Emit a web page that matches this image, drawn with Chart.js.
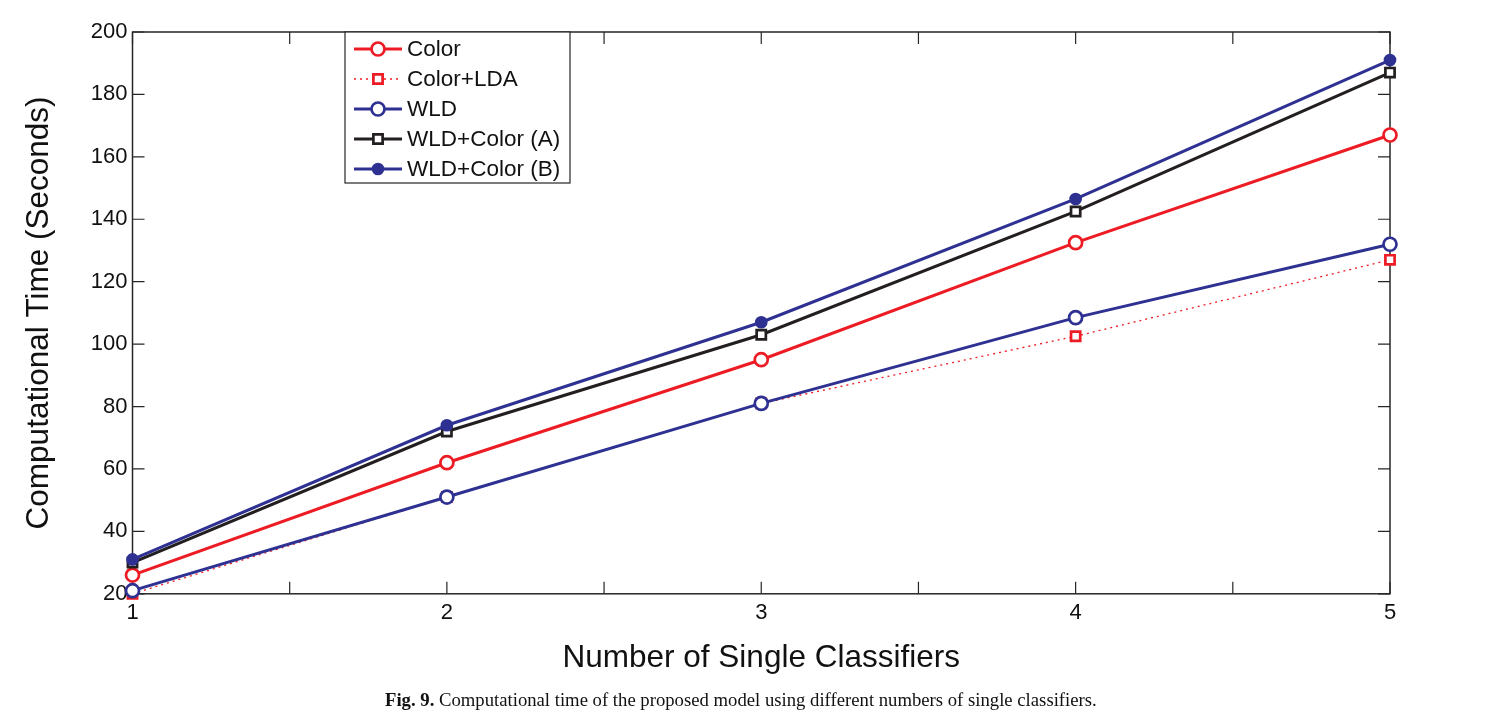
<!DOCTYPE html>
<html>
<head>
<meta charset="utf-8">
<script src="https://cdn.jsdelivr.net/npm/chart.js@4.4.0/dist/chart.umd.min.js"></script>
<style>
  body { margin: 0; background: #ffffff; }
  #wrap { position: relative; width: 1503px; height: 727px; }
  #chart { position: absolute; left: 0; top: 0; }
  #caption {
    position: absolute; left: 385px; top: 689px;
    font-family: "Liberation Serif", "DejaVu Serif", serif;
    font-size: 18.7px; color: #111;
    white-space: nowrap;
  }
</style>
</head>
<body>
<div id="wrap">
  <canvas id="chart" width="1503" height="690"></canvas>
  <div id="caption"><b>Fig. 9.</b> Computational time of the proposed model using different numbers of single classifiers.</div>
</div>
<script>
// Number of single classifiers
const classifiers = [1, 2, 3, 4, 5];

// Computational time (seconds)
const colorTime = [26, 62, 95, 132.5, 167];
const colorLdaTime = [20, 51, 81, 102.5, 127];
const wldTime = [21, 51, 81, 108.5, 132];
const wldColorATime = [30, 72, 103, 142.5, 187];
const wldColorBTime = [31, 74, 107, 146.5, 191];

const yTicks = [20, 40, 60, 80, 100, 120, 140, 160, 180, 200];

const RED = 'rgb(237, 28, 36)';
const BLUE = 'rgb(46, 49, 146)';
const BLACK = 'rgb(35, 31, 32)';
const AXIS = '#262626';
const SANS = '"Liberation Sans", Arial, sans-serif';

function points(values) {
  return classifiers.map((x, i) => ({ x: x, y: values[i] }));
}

// MATLAB style box with inward ticks on all four sides
const boxPlugin = {
  id: 'matlabBox',
  beforeDatasetsDraw(chart) {
    const { ctx, chartArea: a, scales } = chart;
    ctx.save();
    ctx.strokeStyle = AXIS;
    ctx.lineWidth = 1.5;
    ctx.strokeRect(a.left, a.top, a.right - a.left, a.bottom - a.top);
    ctx.lineWidth = 1.2;
    const len = 12;
    ctx.beginPath();
    for (let v = 1; v <= 5; v += 0.5) {
      const px = scales.x.getPixelForValue(v);
      ctx.moveTo(px, a.bottom); ctx.lineTo(px, a.bottom - len);
      ctx.moveTo(px, a.top); ctx.lineTo(px, a.top + len);
    }
    yTicks.forEach(v => {
      const py = scales.y.getPixelForValue(v);
      ctx.moveTo(a.left, py); ctx.lineTo(a.left + len, py);
      ctx.moveTo(a.right, py); ctx.lineTo(a.right - len, py);
    });
    ctx.stroke();
    ctx.restore();
  }
};

// Legend box drawn inside the plot, near the top left
const legendPlugin = {
  id: 'boxLegend',
  afterDraw(chart) {
    const { ctx } = chart;
    const left = 345, top = 32, width = 225, height = 151;
    ctx.save();
    ctx.fillStyle = '#ffffff';
    ctx.fillRect(left, top, width, height);
    ctx.strokeStyle = AXIS;
    ctx.lineWidth = 1.2;
    ctx.strokeRect(left, top, width, height);
    ctx.font = '22.5px ' + SANS;
    ctx.textBaseline = 'middle';
    chart.data.datasets.forEach((ds, i) => {
      const y = top + 17 + i * 30;
      ctx.strokeStyle = ds.borderColor;
      ctx.lineWidth = ds.borderWidth;
      ctx.setLineDash(ds.borderDash || []);
      ctx.beginPath();
      ctx.moveTo(left + 9, y);
      ctx.lineTo(left + 57, y);
      ctx.stroke();
      ctx.setLineDash([]);
      const cx = left + 33;
      const r = ds.pointRadius;
      ctx.lineWidth = ds.pointBorderWidth;
      ctx.strokeStyle = ds.pointBorderColor;
      ctx.fillStyle = ds.pointBackgroundColor;
      ctx.beginPath();
      if (ds.pointStyle === 'rect') {
        ctx.rect(cx - r * 0.71, y - r * 0.71, r * 1.42, r * 1.42);
      } else {
        ctx.arc(cx, y, r, 0, Math.PI * 2);
      }
      ctx.fill();
      ctx.stroke();
      ctx.fillStyle = '#111111';
      ctx.fillText(ds.label, left + 62, y + 1);
    });
    ctx.restore();
  }
};

function series(label, values, color, style, filled, dash, width, radius, order) {
  return {
    label: label,
    data: points(values),
    borderColor: color,
    borderWidth: width,
    borderDash: dash,
    pointStyle: style,
    pointRadius: radius,
    pointBorderWidth: 2.7,
    pointBorderColor: color,
    pointBackgroundColor: filled ? color : '#ffffff',
    tension: 0,
    clip: false,
    order: order
  };
}

new Chart(document.getElementById('chart').getContext('2d'), {
  type: 'line',
  data: {
    datasets: [
      series('Color', colorTime, RED, 'circle', false, [], 3, 6.5, 5),
      series('Color+LDA', colorLdaTime, RED, 'rect', false, [2, 4], 1.3, 6.5, 4),
      series('WLD', wldTime, BLUE, 'circle', false, [], 3, 6.5, 3),
      series('WLD+Color (A)', wldColorATime, BLACK, 'rect', false, [], 3, 6.5, 2),
      series('WLD+Color (B)', wldColorBTime, BLUE, 'circle', true, [], 3, 5, 1)
    ]
  },
  options: {
    responsive: false,
    animation: false,
    layout: { padding: { left: 20, right: 113, top: 32, bottom: 13 } },
    plugins: {
      legend: { display: false },
      tooltip: { enabled: false }
    },
    scales: {
      x: {
        type: 'linear',
        min: 1,
        max: 5,
        grid: { display: false, drawTicks: false },
        border: { display: false },
        ticks: {
          stepSize: 0.5,
          padding: 6,
          color: '#111111',
          font: { family: SANS, size: 22 },
          callback: v => Number.isInteger(v) ? String(v) : ''
        },
        title: {
          display: true,
          text: 'Number of Single Classifiers',
          color: '#111111',
          font: { family: SANS, size: 31.5 },
          padding: { top: 7, bottom: 0 }
        }
      },
      y: {
        min: 20,
        max: 200,
        grid: { display: false, drawTicks: false },
        border: { display: false },
        ticks: {
          stepSize: 20,
          padding: 5,
          color: '#111111',
          font: { family: SANS, size: 22 }
        },
        title: {
          display: true,
          text: 'Computational Time (Seconds)',
          color: '#111111',
          font: { family: SANS, size: 31.5 },
          padding: { top: 0, bottom: 28 }
        }
      }
    }
  },
  plugins: [boxPlugin, legendPlugin]
});
</script>
</body>
</html>
